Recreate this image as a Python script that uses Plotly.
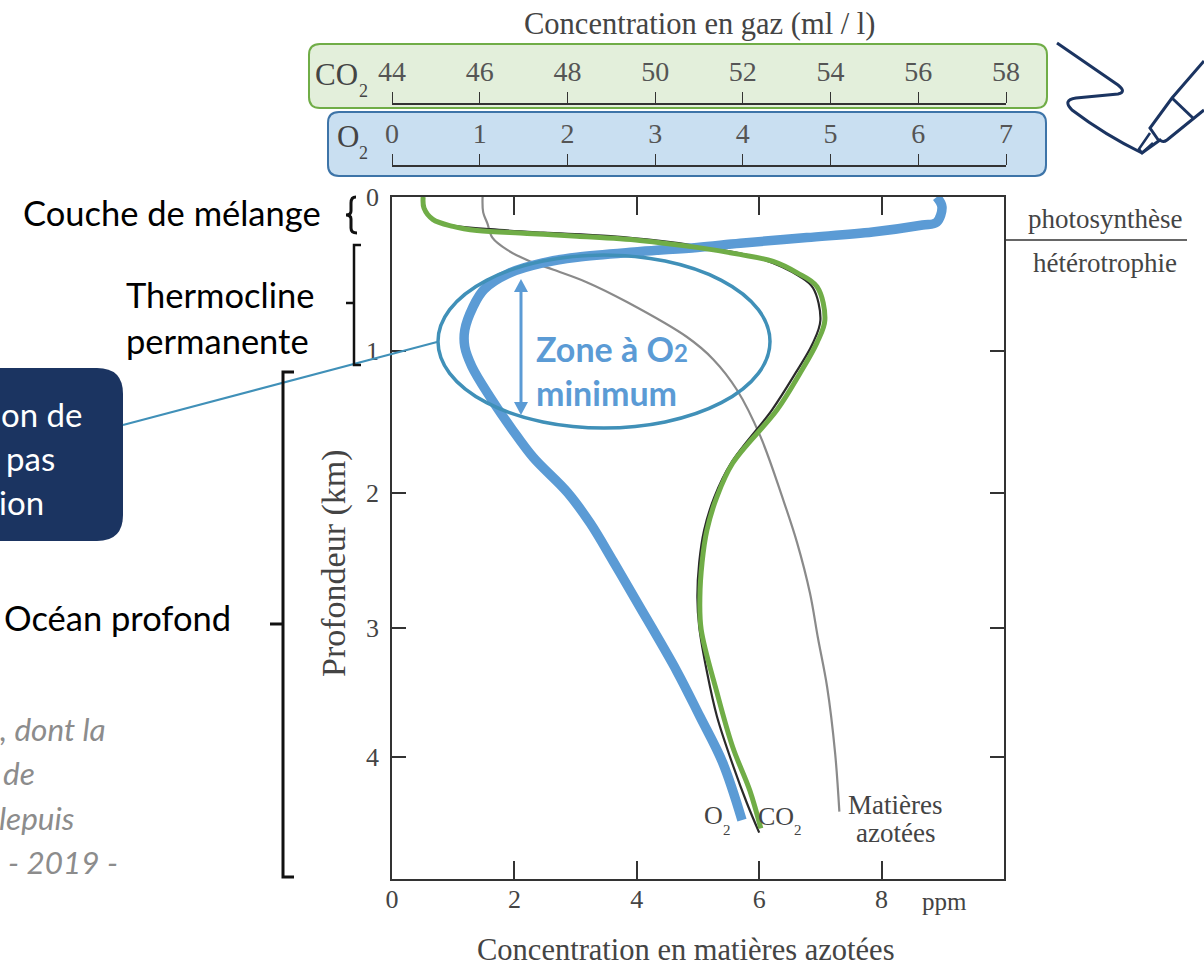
import plotly.graph_objects as go

W, H = 1204, 966

# ---- data ----
ppm_ticks = [0, 2, 4, 6, 8]
depth_tick_labels = ["0", "1", "2", "3", "4"]
depth_tick_pos = [0, 1.10, 2.114, 3.079, 4.0]
o2_ticks = [0, 1, 2, 3, 4, 5, 6, 7]
co2_ticks = [44, 46, 48, 50, 52, 54, 56, 58]

o2_ml = [6.21, 6.27, 6.21, 6.05, 5.48, 4.73, 3.97, 3.48, 2.83, 2.11, 1.72, 1.35, 1.05, 0.92, 0.83, 0.83,
         0.91, 1.12, 1.37, 1.61, 2.00, 2.26, 2.52, 2.79, 3.25, 3.51, 3.77, 3.99]
o2_depth = [0, 0.07, 0.18, 0.20, 0.25, 0.29, 0.33, 0.36, 0.39, 0.43, 0.47, 0.54, 0.66, 0.79, 0.95, 1.07,
            1.21, 1.43, 1.66, 1.86, 2.11, 2.33, 2.60, 2.89, 3.39, 3.71, 4.04, 4.45]

co2_ml = [44.71, 44.73, 44.93, 45.39, 45.94, 47.08, 48.22, 49.65, 50.95, 51.93, 52.69, 53.23, 53.69, 53.87,
          53.69, 53.30, 52.78, 51.77, 51.41, 51.18, 51.07, 51.02, 51.05, 51.41, 51.77, 52.16, 52.41]
co2_depth = [0, 0.08, 0.16, 0.21, 0.24, 0.26, 0.28, 0.31, 0.36, 0.41, 0.46, 0.54, 0.64, 0.88,
             1.04, 1.26, 1.52, 1.90, 2.14, 2.38, 2.61, 2.86, 3.09, 3.54, 3.93, 4.24, 4.51]

print_ppm = [0.51, 0.53, 0.63, 0.87, 1.61, 2.47, 3.57, 4.99, 6.02, 6.67, 6.88, 7.00, 6.87, 6.59,
             6.21, 5.54, 5.27, 5.10, 5.02, 4.99, 5.02, 5.15, 5.31, 5.58, 5.80, 6.00]
print_depth = [0, 0.07, 0.15, 0.195, 0.23, 0.255, 0.28, 0.35, 0.44, 0.57, 0.65, 0.88, 1.05, 1.26,
               1.52, 1.90, 2.14, 2.38, 2.61, 2.86, 3.07, 3.40, 3.71, 4.07, 4.33, 4.54]

nitrogen_ppm = [1.48, 1.49, 1.56, 1.64, 1.89, 2.26, 2.64, 3.19, 3.84, 4.82, 5.25, 5.64,
                6.02, 6.39, 6.62, 6.83, 6.96, 7.11, 7.24, 7.31]
nitrogen_depth = [0, 0.11, 0.19, 0.29, 0.38, 0.46, 0.52, 0.61, 0.75, 1.00, 1.16, 1.38,
                  1.71, 2.16, 2.47, 2.83, 3.15, 3.50, 3.97, 4.39]

SERIF = "Liberation Serif"
SANS = "Lato"
NAVY = "#1b3461"
BLUE = "#5b9bd5"
TEAL = "#4090b8"
GREEN = "#70ad47"
INK = "#444444"
FRAME = "#333333"


def X(p):
    return p / W


def Y(p):
    return 1 - p / H


def path(points, close=False):
    s = "M " + " L ".join(f"{X(a):.5f},{Y(b):.5f}" for a, b in points)
    return s + (" Z" if close else "")


def round_rect(x0, y0, x1, y1, r):
    return (
        f"M {X(x0 + r):.5f},{Y(y0):.5f} L {X(x1 - r):.5f},{Y(y0):.5f} "
        f"Q {X(x1):.5f},{Y(y0):.5f} {X(x1):.5f},{Y(y0 + r):.5f} "
        f"L {X(x1):.5f},{Y(y1 - r):.5f} Q {X(x1):.5f},{Y(y1):.5f} {X(x1 - r):.5f},{Y(y1):.5f} "
        f"L {X(x0 + r):.5f},{Y(y1):.5f} Q {X(x0):.5f},{Y(y1):.5f} {X(x0):.5f},{Y(y1 - r):.5f} "
        f"L {X(x0):.5f},{Y(y0 + r):.5f} Q {X(x0):.5f},{Y(y0):.5f} {X(x0 + r):.5f},{Y(y0):.5f} Z"
    )


shapes = []


def add_path(d, color=None, width=0, fill=None, layer="above"):
    shapes.append(dict(type="path", xref="paper", yref="paper", path=d, layer=layer,
                       line=dict(color=color or "rgba(0,0,0,0)", width=width),
                       fillcolor=fill or "rgba(0,0,0,0)"))


# coloured scale boxes
add_path(round_rect(309, 44, 1047, 108, 11), GREEN, 2, "#e3efdb", "below")
add_path(round_rect(328, 112, 1046, 176, 11), "#3d74a8", 2, "#c9dff1", "below")
# dark call-out
add_path(round_rect(-30, 368, 123, 541, 26), None, 0, NAVY)
add_path(path([(123, 425), (437, 342)]), TEAL, 2)
# ellipse
shapes.append(dict(type="circle", xref="paper", yref="paper", x0=X(438), x1=X(770), y0=Y(428), y1=Y(255),
                   line=dict(color=TEAL, width=3.5), layer="above"))
# double arrow
add_path(path([(521, 292), (521, 402)]), BLUE, 3)
add_path(path([(521, 279), (514, 292), (528, 292)], True), None, 0, BLUE)
add_path(path([(521, 415), (514, 402), (528, 402)], True), None, 0, BLUE)
# photosynthesis separator
add_path(path([(1005, 240), (1187, 240)]), FRAME, 1.5)
# brackets
add_path(
    f"M {X(356):.5f},{Y(197):.5f} Q {X(351):.5f},{Y(197):.5f} {X(351):.5f},{Y(203):.5f} "
    f"L {X(351):.5f},{Y(211):.5f} Q {X(351):.5f},{Y(215):.5f} {X(346):.5f},{Y(215):.5f} "
    f"Q {X(351):.5f},{Y(215):.5f} {X(351):.5f},{Y(219):.5f} L {X(351):.5f},{Y(228):.5f} "
    f"Q {X(351):.5f},{Y(233):.5f} {X(357):.5f},{Y(233):.5f}", "#111111", 3)
add_path(path([(361, 245), (354, 245), (354, 365), (361, 365)]), "#111111", 2.5)
add_path(path([(346, 303), (354, 303)]), "#111111", 2.5)
add_path(path([(294, 372), (283, 372), (283, 877), (294, 877)]), "#111111", 3)
add_path(path([(270, 624), (283, 624)]), "#111111", 3)
# pen icon
add_path(
    f"M {X(1057):.5f},{Y(43):.5f} L {X(1118):.5f},{Y(85):.5f} Q {X(1127):.5f},{Y(92):.5f} {X(1118):.5f},{Y(94):.5f} "
    f"L {X(1076):.5f},{Y(98):.5f} Q {X(1062):.5f},{Y(100):.5f} {X(1072):.5f},{Y(110):.5f} "
    f"Q {X(1105):.5f},{Y(135):.5f} {X(1142):.5f},{Y(153):.5f} L {X(1160):.5f},{Y(140):.5f} "
    f"Q {X(1163):.5f},{Y(143):.5f} {X(1167):.5f},{Y(140):.5f} L {X(1204):.5f},{Y(110):.5f}", NAVY, 3)
add_path(path([(1204, 61), (1172, 98), (1150, 128), (1159, 141)]), NAVY, 3)
add_path(path([(1172, 98), (1194, 119)]), NAVY, 3)
add_path(path([(1150, 133), (1139, 149), (1142, 153), (1153, 143)]), NAVY, 2.5)

annotations = []


def text(t, x, y, size, color=INK, family=SERIF, anchor="center", angle=0):
    annotations.append(dict(text=t, x=X(x), y=Y(y), xref="paper", yref="paper", showarrow=False,
                            xanchor=anchor, yanchor="middle", textangle=angle,
                            font=dict(family=family, size=size, color=color)))


text("Concentration en gaz (ml / l)", 699, 24, 30.5)
text("CO", 337, 75, 31)
text("2", 363, 91, 18)
text("O", 348, 136, 31)
text("2", 363, 153, 18)
text("photosynthèse", 1105, 219, 27)
text("hétérotrophie", 1105, 263, 27)
text("Profondeur (km)", 334, 563, 34, angle=-90)
text("Concentration en matières azotées", 686, 950, 30.5)
text("ppm", 945, 901, 25)
text("O", 713, 815, 26)
text("2", 727, 830, 15)
text("CO", 776, 816, 26)
text("2", 798, 830, 15)
text("Matières", 895, 805, 27)
text("azotées", 895, 833, 27)
text("Couche de mélange", 323, 212, 34.5, "#000000", SANS, "right")
text("Thermocline", 124, 295, 34.5, "#000000", SANS, "left")
text("permanente", 124, 340, 34.5, "#000000", SANS, "left")
text("Océan profond", 233, 617, 34.5, "#000000", SANS, "right")
text("on de", 84, 414, 33, "#ffffff", SANS, "right")
text("pas", 57, 458, 33, "#ffffff", SANS, "right")
text("ion", 46, 502, 33, "#ffffff", SANS, "right")
for t, x, y in [(", dont la", 108, 729), ("de", 37, 773), ("lepuis", 76, 818), ("- 2019 -", 120, 862)]:
    text(f"<i>{t}</i>", x, y, 31.5, "#8c8c8c", SANS, "right")
text('<b>Zone à O<span style="font-size:24px">2</span></b>', 534, 348, 34, BLUE, SANS, "left")
text("<b>minimum</b>", 534, 393, 34, BLUE, SANS, "left")

fig = go.Figure()
fig.add_trace(go.Scatter(x=nitrogen_ppm, y=nitrogen_depth, mode="lines", name="Matières azotées",
                         line=dict(color="#8a8a8a", width=2.2, shape="spline"), xaxis="x", yaxis="y"))
fig.add_trace(go.Scatter(x=print_ppm, y=print_depth, mode="lines", name="CO2 (tracé)",
                         line=dict(color="#2a2a2a", width=2.2, shape="spline"), xaxis="x", yaxis="y"))
fig.add_trace(go.Scatter(x=o2_ml, y=o2_depth, mode="lines", name="O2",
                         line=dict(color=BLUE, width=9.5, shape="spline"), xaxis="x3", yaxis="y"))
fig.add_trace(go.Scatter(x=co2_ml, y=co2_depth, mode="lines", name="CO2",
                         line=dict(color=GREEN, width=5, shape="spline"), xaxis="x4", yaxis="y"))

gas_axis = dict(anchor="free", side="top", showgrid=False, zeroline=False, showline=True, automargin=False,
                linecolor=FRAME, linewidth=1.5, ticks="outside", ticklen=11, tickcolor=FRAME,
                tickwidth=1, ticklabelstandoff=0,
                tickfont=dict(family=SERIF, size=28, color="#555555"),
                domain=[X(392), X(1006)])

fig.update_layout(
    width=W, height=H, margin=dict(l=0, r=0, t=0, b=0, pad=0, autoexpand=False), autosize=False,
    showlegend=False, paper_bgcolor="#ffffff", plot_bgcolor="rgba(0,0,0,0)",
    xaxis=dict(domain=[X(392), X(1004)], range=[0, 10], tickvals=ppm_ticks, ticks="inside", ticklen=18,
               tickcolor=FRAME, tickwidth=1.5, showline=True, linecolor=FRAME, linewidth=1.5, automargin=False,
               mirror="ticks", showgrid=False, zeroline=False, ticklabelstandoff=-4,
               tickfont=dict(family=SERIF, size=26, color=INK)),
    yaxis=dict(domain=[Y(879), Y(197)], range=[4.871, 0], tickvals=depth_tick_pos, ticktext=depth_tick_labels,
               ticks="inside", ticklen=14, tickcolor=FRAME, tickwidth=1.5, showline=True, linecolor=FRAME,
               linewidth=1.5, mirror="ticks", showgrid=False, zeroline=False, ticklabelstandoff=6, automargin=False,
               tickfont=dict(family=SERIF, size=26, color=INK)),
    xaxis3=dict(range=[0, 7], tickvals=o2_ticks, position=Y(166), **gas_axis),
    xaxis4=dict(range=[44, 58], tickvals=co2_ticks, position=Y(104), **gas_axis),
    shapes=shapes, annotations=annotations,
)

fig.write_html("out.html", config=dict(displayModeBar=False), post_script="document.body.style.margin='0';")
